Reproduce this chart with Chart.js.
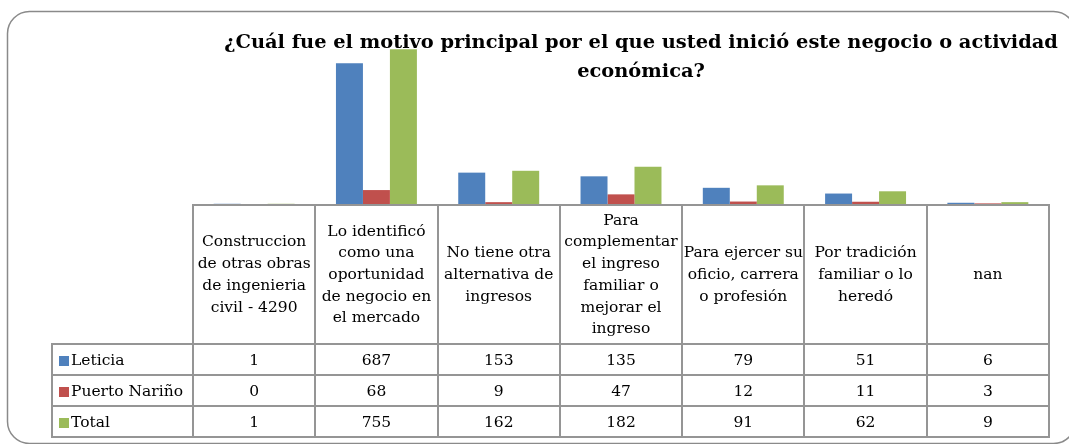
<!DOCTYPE html>
<html>
<head>
<meta charset="utf-8">
<script src="https://cdn.jsdelivr.net/npm/chart.js@4/dist/chart.umd.min.js"></script>
<style>
  html, body { margin: 0; padding: 0; background: #fff; }
  #wrap { width: 1069px; height: 444px; }
</style>
</head>
<body>
<div id="wrap"><canvas id="chart" width="1069" height="444"></canvas></div>
<script>
const titleLines = ['¿Cuál fue el motivo principal por el que usted inició este negocio o actividad', 'económica?'];
const categories = [
  ['Construccion', 'de otras obras', 'de ingenieria', 'civil - 4290'],
  ['Lo identificó', 'como una', 'oportunidad', 'de negocio en', 'el mercado'],
  ['No tiene otra', 'alternativa de', 'ingresos'],
  ['Para', 'complementar', 'el ingreso', 'familiar o', 'mejorar el', 'ingreso'],
  ['Para ejercer su', 'oficio, carrera', 'o profesión'],
  ['Por tradición', 'familiar o lo', 'heredó'],
  ['nan']
];
const seriesNames = ['Leticia', 'Puerto Nariño', 'Total'];
const leticia = [1, 687, 153, 135, 79, 51, 6];
const puertoNarino = [0, 68, 9, 47, 12, 11, 3];
const total = [1, 755, 162, 182, 91, 62, 9];
const seriesColors = ['#4F81BD', '#C0504D', '#9BBB59'];
const yMax = 800;

const serif = '"DejaVu Serif", "Liberation Serif", serif';
const tableFont = '15.5px ' + serif;
const titleFont = 'bold 19.4px ' + serif;

// header row height and data row heights (px)
const headerH = 140;
const rowH = 31;
const tableLeft = 52;

const tablePlugin = {
  id: 'tablePlugin',
  beforeDraw(chart) {
    const ctx = chart.ctx;
    // rounded chart border
    ctx.save();
    ctx.strokeStyle = '#8a8a8a';
    ctx.lineWidth = 1.5;
    ctx.beginPath();
    ctx.roundRect(7.5, 11.5, 1068, 432, 22);
    ctx.stroke();
    ctx.restore();
  },
  afterDraw(chart) {
    const ctx = chart.ctx;
    const area = chart.chartArea;
    const xs = chart.scales.x;
    const n = categories.length;
    const colW = (area.right - area.left) / n;
    const top = area.bottom;
    const headBottom = top + headerH;
    const tableBottom = headBottom + rowH * seriesNames.length;

    ctx.save();
    ctx.strokeStyle = '#959595';
    ctx.lineWidth = 2;
    ctx.beginPath();
    // header row lines
    ctx.moveTo(area.left - 1, top + 1);
    ctx.lineTo(area.right + 1, top + 1);
    for (let i = 0; i <= n; i++) {
      const x = Math.round(area.left + i * colW);
      ctx.moveTo(x, top);
      ctx.lineTo(x, tableBottom + 1);
    }
    for (let r = 0; r <= seriesNames.length; r++) {
      const y = Math.round(headBottom + r * rowH);
      ctx.moveTo(tableLeft - 1, y);
      ctx.lineTo(area.right + 1, y);
    }
    ctx.moveTo(tableLeft, headBottom);
    ctx.lineTo(tableLeft, tableBottom + 1);
    ctx.stroke();
    ctx.restore();

    // header labels
    ctx.save();
    ctx.fillStyle = '#000';
    ctx.font = tableFont;
    ctx.textAlign = 'center';
    ctx.textBaseline = 'middle';
    const lineH = 21.7;
    categories.forEach((lines, i) => {
      const cx = xs.getPixelForValue(i);
      const cy = top + headerH / 2 + 1;
      const y0 = cy - (lines.length - 1) * lineH / 2;
      lines.forEach((t, k) => ctx.fillText(t, cx, y0 + k * lineH));
    });

    // data rows
    chart.data.datasets.forEach((ds, r) => {
      const cy = headBottom + r * rowH + rowH / 2 + 1;
      ds.data.forEach((v, i) => {
        ctx.fillText(String(v), xs.getPixelForValue(i), cy);
      });
      ctx.fillStyle = ds.backgroundColor;
      ctx.fillRect(59, Math.round(cy - 5), 10, 10);
      ctx.fillStyle = '#000';
      ctx.textAlign = 'left';
      ctx.fillText(ds.label, 71, cy);
      ctx.textAlign = 'center';
    });

    // title
    ctx.font = titleFont;
    ctx.textBaseline = 'alphabetic';
    ctx.fillText(titleLines[0], 641, 48);
    ctx.fillText(titleLines[1], 641, 77);
    ctx.restore();
  }
};

new Chart(document.getElementById('chart'), {
  type: 'bar',
  data: {
    labels: categories,
    datasets: [
      { label: seriesNames[0], data: leticia, backgroundColor: seriesColors[0] },
      { label: seriesNames[1], data: puertoNarino, backgroundColor: seriesColors[1] },
      { label: seriesNames[2], data: total, backgroundColor: seriesColors[2] }
    ]
  },
  options: {
    responsive: false,
    animation: false,
    devicePixelRatio: 1,
    layout: { padding: { left: 193, right: 20, top: 40, bottom: 240 } },
    datasets: {
      bar: { barPercentage: 1, categoryPercentage: 0.662, borderWidth: 0 }
    },
    plugins: {
      legend: { display: false },
      title: { display: false },
      tooltip: { enabled: false }
    },
    scales: {
      x: { display: false },
      y: { display: false, min: 0, max: yMax }
    }
  },
  plugins: [tablePlugin]
});
</script>
</body>
</html>
